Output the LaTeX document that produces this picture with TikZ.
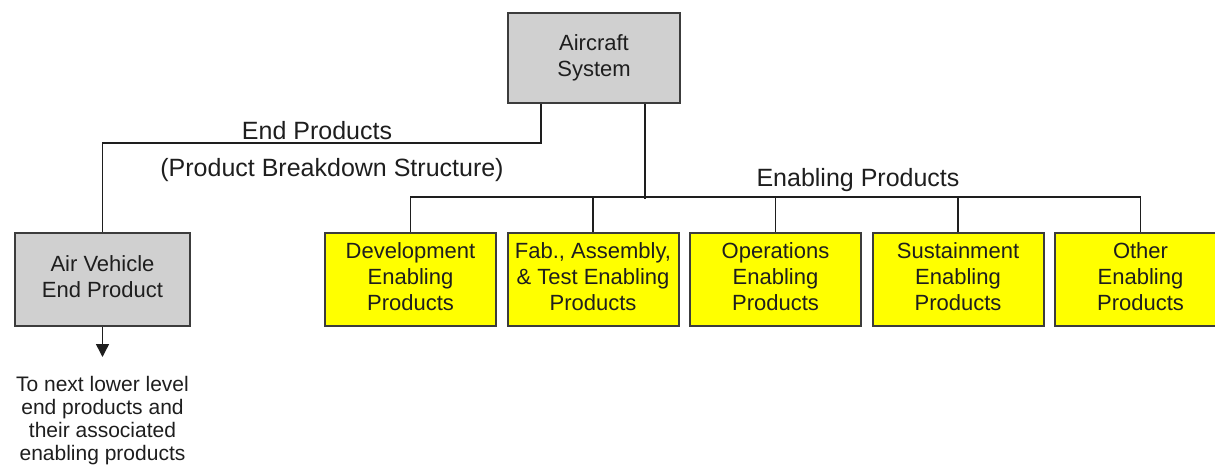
\documentclass[tikz,border=0pt]{standalone}
\usepackage{fontspec}
\setmainfont{Liberation Sans}
\usepackage{tikz}
\usetikzlibrary{arrows.meta,positioning}
\definecolor{boxgray}{RGB}{208,208,208}
\definecolor{boxyellow}{RGB}{255,255,0}
\definecolor{edgegray}{RGB}{60,60,60}
\definecolor{inkgray}{RGB}{30,30,30}
\begin{document}
\begin{tikzpicture}[x=1pt,y=-1pt]
  \tikzstyle{sysblock}=[rectangle, draw=edgegray, line width=2pt, fill=boxgray,
                        text=inkgray, inner sep=0pt, minimum width=172pt, minimum height=90pt,
                        font=\fontsize{22}{26}\selectfont]
  \tikzstyle{enblock}=[sysblock, fill=boxyellow, minimum width=171pt, minimum height=93pt]
  \tikzstyle{link}=[draw=inkgray, line width=1.5pt]
  \tikzstyle{biglabel}=[text=inkgray, inner sep=0pt, font=\fontsize{25}{29}\selectfont]
  \renewcommand{\arraystretch}{1}
  \useasboundingbox (0,0) rectangle (1215,472);
  \node[sysblock] (Aircraft) at (594,58) {\begin{tabular}{c}Aircraft\\
                                                              System
                                            \end{tabular}};
  \node[sysblock, minimum width=175pt, minimum height=93pt] (AirVehicle) at (102.5,279.5)
                                           {\begin{tabular}{c}Air Vehicle\\
                                                              End Product
                                            \end{tabular}};
  \node[enblock] (Development) at (410.5,279.5) {\begin{tabular}{c}Development\\
                                                                     Enabling\\
                                                                     Products
                                                   \end{tabular}};
  \node[enblock, right=9.5pt of Development] (FabTest) {\begin{tabular}{c}Fab., Assembly,\\
                                                                           \& Test Enabling\\
                                                                           Products
                                                         \end{tabular}};
  \node[enblock, right=9.5pt of FabTest] (Operations) {\begin{tabular}{c}Operations\\
                                                                          Enabling\\
                                                                          Products
                                                        \end{tabular}};
  \node[enblock, right=9.5pt of Operations] (Sustainment) {\begin{tabular}{c}Sustainment\\
                                                                              Enabling\\
                                                                              Products
                                                            \end{tabular}};
  \node[enblock, right=9.5pt of Sustainment] (Other) {\begin{tabular}{c}Other\\
                                                                         Enabling\\
                                                                         Products
                                                       \end{tabular}};
  \node[biglabel] (EndProducts) at (317,131) {End Products};
  \node[biglabel] (PBS) at (332,170) {(Product Breakdown Structure)};
  \node[biglabel] (EnablingProducts) at (858,180) {Enabling Products};
  \coordinate (Lower) at (102.5,357);
  \node[text=inkgray, inner sep=0pt, font=\fontsize{21}{23}\selectfont, below=18pt of Lower] (NextLevel)
       {\begin{tabular}{c}To next lower level\\
                          end products and\\
                          their associated\\
                          enabling products
        \end{tabular}};
  \draw [link] ([xshift=34pt]Aircraft.south west) -- ++(0,39) -| (AirVehicle.north);
  \draw [link] ([xshift=138pt]Aircraft.south west) -- ++(0,95);
  \draw [link] (Development.north) -- ++(0,-35) -| (Other.north);
  \foreach \blk in {FabTest,Operations,Sustainment}
    \draw [link] (\blk.north) -- ++(0,-35);
  \draw [link, -{Triangle[width=13pt,length=13pt]}] (AirVehicle.south) -- (Lower);
\end{tikzpicture}
\end{document}
